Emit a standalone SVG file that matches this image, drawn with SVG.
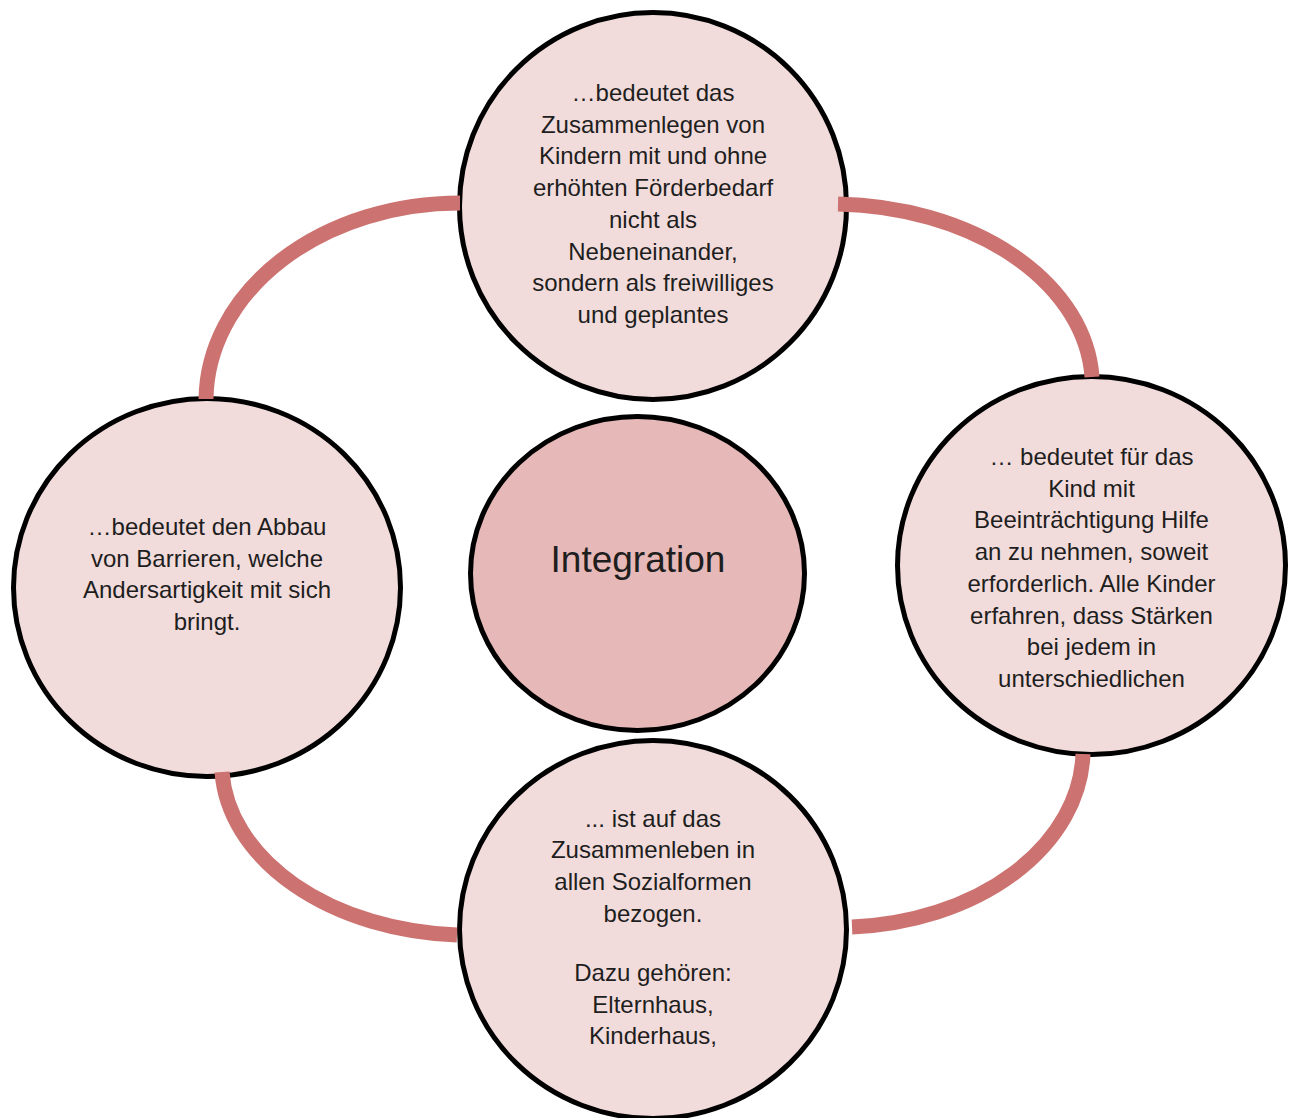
<svg xmlns="http://www.w3.org/2000/svg" width="1292" height="1118" viewBox="0 0 1292 1118">
<style>
.node{fill:#F2DCDB;stroke:#000;stroke-width:5}
.hub{fill:#E6B8B7;stroke:#000;stroke-width:5}
.conn{fill:none;stroke:#CC7371;stroke-width:15;stroke-linecap:butt}
text{font-family:"Liberation Sans",Arial,sans-serif;fill:#1E1E1E;text-anchor:middle}
.t{font-size:24px}
.big{font-size:37px}
</style>
<rect width="1292" height="1118" fill="#fff"/>
<g id="node-top">
<ellipse class="node" cx="653" cy="206" rx="193.5" ry="193.5"/>
<text class="t" x="653" y="101">…bedeutet das</text>
<text class="t" x="653" y="132.7">Zusammenlegen von</text>
<text class="t" x="653" y="164.4">Kindern mit und ohne</text>
<text class="t" x="653" y="196.1">erhöhten Förderbedarf</text>
<text class="t" x="653" y="227.8">nicht als</text>
<text class="t" x="653" y="259.5">Nebeneinander,</text>
<text class="t" x="653" y="291.2">sondern als freiwilliges</text>
<text class="t" x="653" y="322.9">und geplantes</text>
</g>
<g id="node-left">
<ellipse class="node" cx="207" cy="587.5" rx="193.5" ry="189"/>
<text class="t" x="207" y="535">…bedeutet den Abbau</text>
<text class="t" x="207" y="566.7">von Barrieren, welche</text>
<text class="t" x="207" y="598.4">Andersartigkeit mit sich</text>
<text class="t" x="207" y="630.1">bringt.</text>
</g>
<g id="node-right">
<ellipse class="node" cx="1091.5" cy="565.5" rx="194" ry="189"/>
<text class="t" x="1091.5" y="465">… bedeutet für das</text>
<text class="t" x="1091.5" y="496.7">Kind mit</text>
<text class="t" x="1091.5" y="528.4">Beeinträchtigung Hilfe</text>
<text class="t" x="1091.5" y="560.1">an zu nehmen, soweit</text>
<text class="t" x="1091.5" y="591.8">erforderlich. Alle Kinder</text>
<text class="t" x="1091.5" y="623.5">erfahren, dass Stärken</text>
<text class="t" x="1091.5" y="655.2">bei jedem in</text>
<text class="t" x="1091.5" y="686.9">unterschiedlichen</text>
</g>
<g id="node-bottom">
<ellipse class="node" cx="653" cy="929.5" rx="193.5" ry="189"/>
<text class="t" x="653" y="826.5">... ist auf das</text>
<text class="t" x="653" y="858.2">Zusammenleben in</text>
<text class="t" x="653" y="889.9">allen Sozialformen</text>
<text class="t" x="653" y="921.6">bezogen.</text>
<text class="t" x="653" y="981">Dazu gehören:</text>
<text class="t" x="653" y="1012.7">Elternhaus,</text>
<text class="t" x="653" y="1044.4">Kinderhaus,</text>
</g>
<g id="node-center">
<ellipse class="hub" cx="637.5" cy="573.5" rx="167" ry="157"/>
<text class="big" x="638" y="572">Integration</text>
</g>
<g id="connectors">
<path class="conn" d="M460,203 A254,198 0 0 0 206,399"/>
<path class="conn" d="M838,204 A262,182 0 0 1 1092,377"/>
<path class="conn" d="M1083,754 A245,178 0 0 1 852,927"/>
<path class="conn" d="M222,772 A248,172 0 0 0 457,935"/>
</g>
</svg>
